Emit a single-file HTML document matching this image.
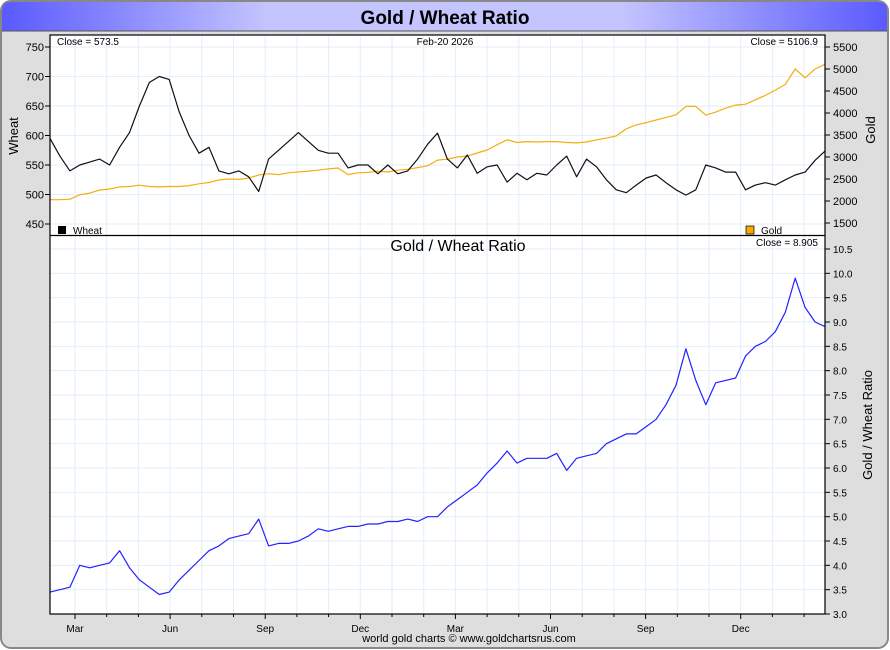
<!DOCTYPE html>
<html><head><meta charset="utf-8"><style>
html,body{margin:0;padding:0;background:#fff;}
svg{display:block;font-family:"Liberation Sans",sans-serif;}
</style></head><body>
<svg id="chart" width="890" height="650" viewBox="0 0 890 650">
<defs>
<linearGradient id="tg" x1="0" x2="1" y1="0" y2="0">
<stop offset="0" stop-color="#5a5aff"/><stop offset="0.3" stop-color="#c4c4ff"/><stop offset="0.7" stop-color="#c4c4ff"/><stop offset="1" stop-color="#5a5aff"/>
</linearGradient>
</defs>
<rect x="1" y="1" width="887" height="647" rx="10" fill="#dedede" stroke="#888" stroke-width="2"/>
<path d="M11 2 H878 Q887 2 887 11 V31 H2 V11 Q2 2 11 2Z" fill="url(#tg)"/>
<line x1="2" y1="31" x2="887" y2="31" stroke="#555" stroke-width="1"/>
<text x="445" y="24" text-anchor="middle" font-size="19" font-weight="bold" fill="#000">Gold / Wheat Ratio</text>
<rect x="50" y="35" width="775" height="579" fill="#fff"/>
<g id="grid"></g>
<g id="series"></g>
<rect x="50" y="35" width="775" height="579" fill="none" stroke="#000" stroke-width="1.2"/>
<line x1="50" y1="235.5" x2="825" y2="235.5" stroke="#000" stroke-width="1.2"/>
<g id="axes" font-size="11" fill="#000"></g>
<text x="57" y="45" font-size="10">Close = 573.5</text>
<text x="445" y="45" font-size="10" text-anchor="middle">Feb-20  2026</text>
<text x="818" y="45" font-size="10" text-anchor="end">Close = 5106.9</text>
<rect x="58" y="226" width="8" height="8" fill="#000"/>
<text x="73" y="234" font-size="10">Wheat</text>
<rect x="746" y="226" width="8" height="8" fill="#f5a800" stroke="#000" stroke-width="0.7"/>
<text x="761" y="234" font-size="10">Gold</text>
<text x="458" y="251" font-size="16" text-anchor="middle">Gold  /  Wheat Ratio</text>
<text x="818" y="246" font-size="10" text-anchor="end">Close = 8.905</text>
<text transform="translate(18,136) rotate(-90)" font-size="13" text-anchor="middle">Wheat</text>
<text transform="translate(875,130) rotate(-90)" font-size="13" text-anchor="middle">Gold</text>
<text transform="translate(872,425) rotate(-90)" font-size="13" text-anchor="middle">Gold / Wheat Ratio</text>
<text x="469" y="642" font-size="11" text-anchor="middle">world gold charts © www.goldchartsrus.com</text>
</svg>
<script>
const wheatValues=[595,565,540,550,555,560,550,580,605,650,690,700,695,640,600,570,580,540,535,540,530,505,560,575,590,605,590,575,570,570,545,550,550,535,550,535,540,560,585,604,560,545,567,536,547,550,521,536,525,536,533,550,565,530,560,547,525,508,503,516,528,533,520,508,499,508,550,545,538,538,508,516,520,516,525,533,538,558,573.5];
const goldValues=[2030,2030,2040,2140,2180,2250,2270,2320,2330,2360,2330,2320,2330,2330,2350,2390,2420,2480,2500,2490,2520,2590,2620,2600,2640,2660,2680,2700,2730,2750,2600,2640,2650,2680,2660,2700,2720,2760,2800,2930,2950,3000,3020,3090,3160,3280,3390,3330,3350,3340,3350,3350,3330,3320,3340,3390,3430,3480,3640,3730,3780,3840,3900,3960,4150,4150,3950,4020,4110,4180,4200,4300,4400,4520,4650,5000,4800,5000,5106.9];
const ratioValues=[3.45,3.5,3.55,4.0,3.95,4.0,4.05,4.3,3.95,3.7,3.55,3.4,3.45,3.7,3.9,4.1,4.3,4.4,4.55,4.6,4.65,4.95,4.4,4.45,4.45,4.5,4.6,4.75,4.7,4.75,4.8,4.8,4.85,4.85,4.9,4.9,4.95,4.9,5.0,5.0,5.2,5.35,5.5,5.65,5.9,6.1,6.35,6.1,6.2,6.2,6.2,6.3,5.95,6.2,6.25,6.3,6.5,6.6,6.7,6.7,6.85,7.0,7.3,7.7,8.45,7.8,7.3,7.75,7.8,7.85,8.3,8.5,8.6,8.8,9.2,9.9,9.3,9.0,8.905];
const wheatTicks=[450,500,550,600,650,700,750];
const goldTicks=[1500,2000,2500,3000,3500,4000,4500,5000,5500];
const ratioTicks=[3.0,3.5,4.0,4.5,5.0,5.5,6.0,6.5,7.0,7.5,8.0,8.5,9.0,9.5,10.0,10.5];
const monthLabels=["Mar","Jun","Sep","Dec","Mar","Jun","Sep","Dec"];

const NS="http://www.w3.org/2000/svg";
const X0=50,X1=825;
function xAt(i,n){return X0+(X1-X0)*i/(n-1);}
function yWheat(v){return 47+(750-v)*(177/300);}
function yGold(v){return 47+(5500-v)*(176/4000);}
function yRatio(v){return 614-(v-3)*(365/7.5);}
function monthX(k){return 75+k*31.7;}
function mk(tag,attrs,parent){const e=document.createElementNS(NS,tag);for(const k in attrs)e.setAttribute(k,attrs[k]);parent.appendChild(e);return e;}
const grid=document.getElementById('grid'),axes=document.getElementById('axes'),series=document.getElementById('series');
// vertical month grid
for(let k=-1;k<24;k++){const x=monthX(k);if(x<=X0||x>=X1)continue;
 const l=mk('line',{x1:x,x2:x,y1:36,y2:614,stroke:'#e2eef8','stroke-width':1},grid);
 
 
 const t=mk('line',{x1:x,x2:x,y1:614,y2:(k%3===0)?619:617,stroke:'#000','stroke-width':1},axes);
 
 }
monthLabels.forEach((m,i)=>{const t=mk('text',{x:monthX(i*3),y:632,'text-anchor':'middle','font-size':10},axes);t.textContent=m;
 
 });
wheatTicks.forEach(v=>{const y=yWheat(v);
 const g=mk('line',{x1:X0,x2:X1,y1:y,y2:y,stroke:'#e2eef8'},grid);
 
 
 mk('line',{x1:45,x2:50,y1:y,y2:y,stroke:'#000'},axes);
 const t=mk('text',{x:44,y:y+4,'text-anchor':'end'},axes);t.textContent=v;
 
 });
goldTicks.forEach(v=>{const y=yGold(v);
 mk('line',{x1:825,x2:830,y1:y,y2:y,stroke:'#000'},axes);
 const t=mk('text',{x:833,y:y+4},axes);t.textContent=v;
 
 });
ratioTicks.forEach(v=>{const y=yRatio(v);
 const g=mk('line',{x1:X0,x2:X1,y1:y,y2:y,stroke:'#e2eef8'},grid);
 
 
 mk('line',{x1:825,x2:830,y1:y,y2:y,stroke:'#000'},axes);
 const t=mk('text',{x:833,y:y+4,'font-size':10},axes);t.textContent=v.toFixed(1);
 
 });
function line(vals,yf,color,name){const n=vals.length;
 const d=vals.map((v,i)=>(i?'L':'M')+xAt(i,n).toFixed(1)+' '+yf(v).toFixed(1)).join(' ');
 const p=mk('path',{d:d,fill:'none',stroke:color,'stroke-width':1.2,'stroke-linejoin':'round'},series);
 
 }
line(goldValues,yGold,'#f5ae10','gold-line');
line(wheatValues,yWheat,'#111','wheat-line');
line(ratioValues,yRatio,'#2222ff','ratio-line');
</script>
</body></html>
